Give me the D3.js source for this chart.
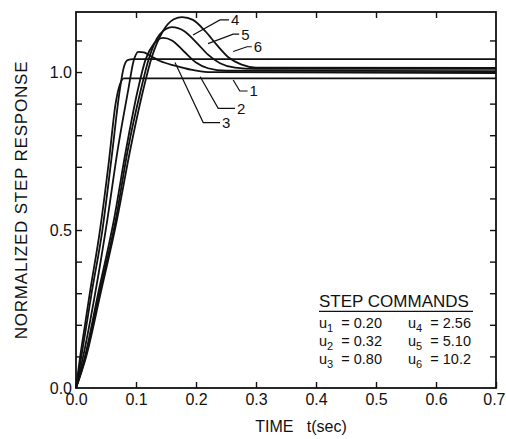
<!DOCTYPE html>
<html>
<head>
<meta charset="utf-8">
<script src="https://cdn.jsdelivr.net/npm/d3@7"></script>
<style>
  body { margin: 0; background: #fff; }
  text { font-family: "Liberation Sans", Arial, sans-serif; fill: #111; }
</style>
</head>
<body>
<div class="chart"></div>
<script>
// step response curves, [t, response]
var curve1 = [[0,0],[0.007,0.1],[0.015,0.2],[0.023,0.3],[0.04,0.5],[0.055,0.72],[0.066,0.9],[0.073,0.96],[0.08,0.98],[0.09,0.98],[0.7,0.98]];
var curve2 = [[0,0],[0.009,0.1],[0.026,0.3],[0.044,0.5],[0.06,0.74],[0.072,0.93],[0.079,1.01],[0.086,1.038],[0.095,1.041],[0.7,1.041]];
var curve3 = [[0,0],[0.012,0.1],[0.032,0.3],[0.052,0.53],[0.07,0.76],[0.087,0.943],[0.096,1.035],[0.104,1.064],[0.113,1.062],[0.125,1.05],[0.14,1.035],[0.165,1.02],[0.19,1.008],[0.22,1.0],[0.7,0.997]];
var curve4 = [[0,0],[0.015,0.1],[0.037,0.3],[0.063,0.53],[0.083,0.75],[0.103,0.943],[0.116,1.04],[0.13,1.09],[0.145,1.108],[0.16,1.1],[0.18,1.065],[0.2,1.03],[0.22,1.012],[0.25,1.004],[0.7,1.003]];
var curve5 = [[0,0],[0.016,0.1],[0.039,0.3],[0.066,0.53],[0.086,0.75],[0.108,0.943],[0.121,1.04],[0.14,1.12],[0.16,1.142],[0.18,1.13],[0.2,1.095],[0.22,1.055],[0.24,1.028],[0.265,1.014],[0.3,1.01],[0.7,1.01]];
var curve6 = [[0,0],[0.017,0.1],[0.041,0.3],[0.068,0.53],[0.09,0.75],[0.112,0.943],[0.126,1.045],[0.145,1.13],[0.163,1.167],[0.177,1.174],[0.195,1.165],[0.215,1.13],[0.235,1.085],[0.255,1.045],[0.275,1.024],[0.3,1.014],[0.7,1.013]];
var curves = [curve1, curve2, curve3, curve4, curve5, curve6];

// curve labels and their leader lines (data units)
var curveLabels = ["1", "2", "3", "4", "5", "6"];
var leaders = [
  [[0.262, 0.975], [0.273, 0.94], [0.286, 0.94]],
  [[0.207, 0.985], [0.237, 0.885], [0.265, 0.885]],
  [[0.165, 1.03], [0.212, 0.84], [0.24, 0.84]],
  [[0.195, 1.117], [0.24, 1.165], [0.255, 1.165]],
  [[0.22, 1.09], [0.262, 1.12], [0.272, 1.12]],
  [[0.262, 1.065], [0.285, 1.08], [0.293, 1.08]]
];

// tick values and labels
var xTicks = [0, 0.1, 0.2, 0.3, 0.4, 0.5, 0.6, 0.7];
var yMinorTicks = [0.1, 0.2, 0.3, 0.4, 0.5, 0.6, 0.7, 0.8, 0.9, 1.0, 1.1];
var yLabelTicks = [0, 0.5, 1.0];

// legend
var legendTitle = "STEP COMMANDS";
var commandNames = ["1", "2", "3", "4", "5", "6"];
var commandValues = ["0.20", "0.32", "0.80", "2.56", "5.10", "10.2"];

var svgWidth = 506;
var svgHeight = 439;
var margin = { top: 12, right: 10, bottom: 51, left: 76 };
var width = svgWidth - margin.left - margin.right;
var height = svgHeight - margin.top - margin.bottom;

var svg = d3.select(".chart")
  .append("svg")
  .attr("width", svgWidth)
  .attr("height", svgHeight);

var chartGroup = svg.append("g")
  .attr("transform", `translate(${margin.left}, ${margin.top})`);

var x = d3.scaleLinear().domain([0, 0.7]).range([0, width]);
var y = d3.scaleLinear().domain([0, 1.19]).range([height, 0]);

// frame
chartGroup.append("rect")
  .attr("width", width)
  .attr("height", height)
  .attr("fill", "none")
  .attr("stroke", "#111")
  .attr("stroke-width", 1.8);

// inward ticks on all four sides
var tickLen = 6;
chartGroup.append("g")
  .attr("transform", `translate(0, ${height})`)
  .call(d3.axisBottom(x).tickValues(xTicks).tickFormat(d3.format(".1f")).tickSizeInner(-tickLen).tickSizeOuter(0).tickPadding(6))
  .call(g => g.select(".domain").remove())
  .call(g => g.selectAll("text").attr("font-size", 16).attr("fill", "#111"))
  // last label sits against the page edge
  .call(g => g.selectAll("text").filter(d => d === 0.7).attr("text-anchor", "end").attr("x", 9));

chartGroup.append("g")
  .call(d3.axisTop(x).tickValues(xTicks.slice(1, -1)).tickSizeInner(-tickLen).tickSizeOuter(0).tickFormat(""))
  .call(g => g.select(".domain").remove());

chartGroup.append("g")
  .call(d3.axisLeft(y).tickValues(yMinorTicks).tickSizeInner(-tickLen).tickSizeOuter(0).tickFormat(""))
  .call(g => g.select(".domain").remove());

chartGroup.append("g")
  .call(d3.axisLeft(y).tickValues(yLabelTicks).tickSize(0).tickPadding(4).tickFormat(d3.format(".1f")))
  .call(g => g.select(".domain").remove())
  .call(g => g.selectAll("text").attr("font-size", 16).attr("fill", "#111"));

chartGroup.append("g")
  .attr("transform", `translate(${width}, 0)`)
  .call(d3.axisRight(y).tickValues(yMinorTicks).tickSizeInner(-tickLen).tickSizeOuter(0).tickFormat(""))
  .call(g => g.select(".domain").remove());

chartGroup.selectAll(".tick line").attr("stroke", "#111").attr("stroke-width", 1.4);

// response curves
var line = d3.line()
  .x(d => x(d[0]))
  .y(d => y(d[1]))
  .curve(d3.curveMonotoneX);

chartGroup.selectAll(".resp")
  .data(curves)
  .enter()
  .append("path")
  .attr("class", "resp")
  .attr("d", line)
  .attr("fill", "none")
  .attr("stroke", "#111")
  .attr("stroke-width", 1.8);

// leader lines and curve numbers
var leaderLine = d3.line().x(d => x(d[0])).y(d => y(d[1]));
chartGroup.selectAll(".leader")
  .data(leaders)
  .enter()
  .append("path")
  .attr("class", "leader")
  .attr("d", leaderLine)
  .attr("fill", "none")
  .attr("stroke", "#111")
  .attr("stroke-width", 1.2);

chartGroup.selectAll(".clabel")
  .data(leaders)
  .enter()
  .append("text")
  .attr("class", "clabel")
  .attr("x", d => x(d[2][0]) + 2)
  .attr("y", d => y(d[2][1]))
  .attr("dy", "0.36em")
  .attr("font-size", 15)
  .text((d, i) => curveLabels[i]);

// axis titles
svg.append("text")
  .attr("transform", `translate(27, ${margin.top + height / 2}) rotate(-90)`)
  .attr("text-anchor", "middle")
  .attr("font-size", 17)
  .attr("letter-spacing", 0.8)
  .text("NORMALIZED STEP RESPONSE");

svg.append("text")
  .attr("x", 301)
  .attr("y", 432)
  .attr("text-anchor", "middle")
  .attr("font-size", 16)
  .attr("xml:space", "preserve")
  .text("TIME   t(sec)");

// step commands legend
var legend = chartGroup.append("g")
  .attr("transform", `translate(${x(0.405)}, ${y(0.255)})`);

legend.append("text")
  .attr("font-size", 17)
  .text(legendTitle);

legend.append("line")
  .attr("x1", 0).attr("x2", 154)
  .attr("y1", 4).attr("y2", 4)
  .attr("stroke", "#111")
  .attr("stroke-width", 1.2);

var rows = legend.selectAll(".cmd")
  .data(commandNames)
  .enter()
  .append("text")
  .attr("class", "cmd")
  .attr("x", (d, i) => i < 3 ? 0 : 89)
  .attr("y", (d, i) => 21 + (i % 3) * 18)
  .attr("font-size", 14.5);

rows.append("tspan").text("u");
rows.append("tspan").attr("dy", 4).attr("font-size", 11).text(d => d);
rows.append("tspan").attr("dy", -4).attr("xml:space", "preserve").text((d, i) => "  = " + commandValues[i]);
</script>
</body>
</html>
